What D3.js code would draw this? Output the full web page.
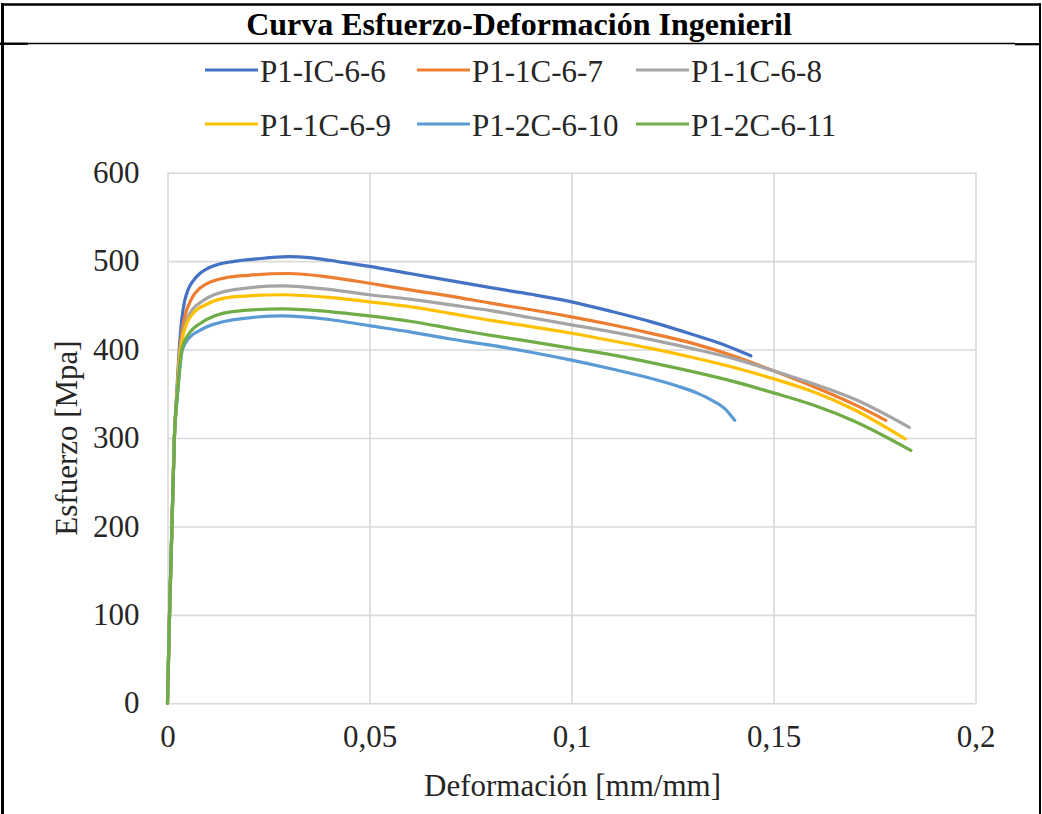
<!DOCTYPE html>
<html>
<head>
<meta charset="utf-8">
<script src="https://cdn.jsdelivr.net/npm/d3@7"></script>
<style>
  html, body { margin: 0; padding: 0; background: #fff; }
  svg { display: block; }
  text { font-family: "Times New Roman", "Liberation Serif", serif; fill: #262626; }
</style>
</head>
<body>
<svg id="chart" width="1042" height="814"></svg>
<script>
// Engineering stress–strain curves, strain [mm/mm] vs stress [MPa]
const seriesNames = ["P1-IC-6-6", "P1-1C-6-7", "P1-1C-6-8", "P1-1C-6-9", "P1-2C-6-10", "P1-2C-6-11"];
const seriesColors = ["#4472C4", "#ED7D31", "#A5A5A5", "#FFC000", "#5B9BD5", "#70AD47"];

const p1ic66 = [[0,0],[0.0005,100],[0.0011,200],[0.0017,300],[0.0023,352],[0.0029,400],[0.0035,433],[0.0042,454],[0.0052,469],[0.0064,478],[0.008,486],[0.0096,491],[0.012,495.5],[0.0161,499.5],[0.022,502.5],[0.03,505],[0.035,504],[0.04,501],[0.045,497.5],[0.05,494],[0.06,486],[0.07,478],[0.08,470],[0.09,462.5],[0.1,454],[0.11,443],[0.12,431],[0.13,417],[0.138,405],[0.1444,393]];
const p11c67 = [[0,0],[0.0005,100],[0.0011,200],[0.0017,300],[0.0024,352],[0.003,398],[0.0037,424],[0.0045,441],[0.0058,456],[0.0079,469],[0.0137,480.5],[0.02,484],[0.03,486],[0.04,482],[0.05,475],[0.06,467.5],[0.07,460.5],[0.08,452.5],[0.09,445],[0.1,437],[0.11,428],[0.12,418],[0.13,407],[0.14,393],[0.15,376],[0.16,358],[0.17,338],[0.1778,320]];
const p11c68 = [[0,0],[0.0005,100],[0.0011,200],[0.0017,300],[0.0024,350],[0.0031,397],[0.0038,418],[0.0048,434],[0.0063,446],[0.0087,455],[0.0161,467.5],[0.0285,472],[0.04,468],[0.05,462],[0.06,457],[0.07,450.5],[0.08,444],[0.09,436],[0.1,428],[0.11,420],[0.12,411],[0.13,401],[0.14,390],[0.15,376],[0.16,361],[0.17,344],[0.1836,312]];
const p11c69 = [[0,0],[0.0005,100],[0.0011,200],[0.0017,300],[0.0024,350],[0.0031,395],[0.0038,415],[0.0048,430],[0.0065,442],[0.0096,451],[0.0161,459.5],[0.0285,462],[0.04,459],[0.05,454],[0.06,448.5],[0.07,441],[0.08,433],[0.09,426],[0.1,418.5],[0.11,410],[0.12,401],[0.13,391],[0.14,380],[0.15,367],[0.16,352],[0.17,332],[0.1826,299]];
const p12c610 = [[0,0],[0.0005,100],[0.0011,200],[0.0017,300],[0.0025,350],[0.0035,396],[0.0045,408],[0.006,416],[0.0079,421.5],[0.0161,433.5],[0.0285,438],[0.04,434],[0.05,427],[0.06,420],[0.07,412],[0.08,405],[0.09,397],[0.1,388],[0.11,378],[0.12,367],[0.126,359],[0.131,351],[0.135,342],[0.138,333],[0.1404,320]];
const p12c611 = [[0,0],[0.0005,100],[0.0011,200],[0.0017,300],[0.0025,352],[0.0035,399],[0.0045,412],[0.006,422],[0.0079,429],[0.0161,443],[0.0285,446],[0.04,443],[0.05,438],[0.06,432],[0.07,424],[0.08,416],[0.09,409],[0.1,401.5],[0.11,394],[0.12,385],[0.13,375],[0.14,364],[0.15,351],[0.16,337],[0.17,319],[0.184,286]];
const seriesValues = [p1ic66, p11c67, p11c68, p11c69, p12c610, p12c611];

const xTicks = [0, 0.05, 0.1, 0.15, 0.2];
const xTickLabels = ["0", "0,05", "0,1", "0,15", "0,2"];
const yTicks = [0, 100, 200, 300, 400, 500, 600];

const svg = d3.select("#chart");

// Plot area
const plotLeft = 167.5, plotRight = 975.5, plotTop = 172.7, plotBottom = 703.3;
const x = d3.scaleLinear().domain([0, 0.2]).range([plotLeft, plotRight]);
const y = d3.scaleLinear().domain([0, 600]).range([plotBottom, plotTop]);

// Frame around the figure and the title cell
const frame = svg.append("g").attr("stroke", "#000").attr("fill", "none");
frame.append("line").attr("x1", 2.5).attr("x2", 2.5).attr("y1", 3).attr("y2", 814).attr("stroke-width", 3);
frame.append("line").attr("x1", 1).attr("x2", 1041).attr("y1", 4.5).attr("y2", 4.5).attr("stroke-width", 2.5);
frame.append("line").attr("x1", 1040).attr("x2", 1040).attr("y1", 3.5).attr("y2", 814).attr("stroke-width", 2);
frame.append("line").attr("x1", 0).attr("x2", 1015).attr("y1", 43.5).attr("y2", 43.5).attr("stroke-width", 1.6);
frame.append("line").attr("x1", 1015).attr("x2", 1041).attr("y1", 44.2).attr("y2", 44.2).attr("stroke-width", 2.2);
frame.append("line").attr("x1", 0).attr("x2", 28).attr("y1", 43.8).attr("y2", 43.8).attr("stroke-width", 2.2);

svg.append("text")
  .attr("x", 519).attr("y", 35)
  .attr("text-anchor", "middle")
  .attr("font-size", 32).attr("font-weight", "bold")
  .style("fill", "#000")
  .text("Curva Esfuerzo-Deformación Ingenieril");

// Gridlines
const gridY = svg.append("g")
  .attr("transform", `translate(${plotLeft},0)`)
  .call(d3.axisLeft(y).tickValues(yTicks).tickSize(-(plotRight - plotLeft)).tickFormat(""));
gridY.select(".domain").remove();
gridY.selectAll("line").attr("stroke", "#d9d9d9").attr("stroke-width", 1.6);

const gridX = svg.append("g")
  .attr("transform", `translate(0,${plotBottom})`)
  .call(d3.axisBottom(x).tickValues(xTicks).tickSize(-(plotBottom - plotTop)).tickFormat(""));
gridX.select(".domain").remove();
gridX.selectAll("line").attr("stroke", "#d9d9d9").attr("stroke-width", 1.6);

// Tick labels
const yAxis = svg.append("g")
  .attr("transform", `translate(${plotLeft},0)`)
  .call(d3.axisLeft(y).tickValues(yTicks).tickSize(0).tickPadding(28).tickFormat(d3.format("d")));
yAxis.select(".domain").remove();
yAxis.selectAll("text")
  .attr("font-size", 31).attr("font-family", null)
  .attr("dy", "0.31em").style("fill", "#262626");

const xAxis = svg.append("g")
  .attr("transform", `translate(0,${plotBottom})`)
  .call(d3.axisBottom(x).tickValues(xTicks).tickSize(0).tickPadding(22)
        .tickFormat((d, i) => xTickLabels[i]));
xAxis.select(".domain").remove();
xAxis.selectAll("text")
  .attr("font-size", 31).attr("font-family", null)
  .style("fill", "#262626");

// Axis titles
svg.append("text")
  .attr("x", (plotLeft + plotRight) / 2 + 1).attr("y", 796)
  .attr("text-anchor", "middle").attr("font-size", 31)
  .text("Deformación [mm/mm]");

svg.append("text")
  .attr("transform", `translate(77,${(plotTop + plotBottom) / 2}) rotate(-90)`)
  .attr("text-anchor", "middle").attr("font-size", 31)
  .text("Esfuerzo [Mpa]");

// Curves
const line = d3.line()
  .x(d => x(d[0]))
  .y(d => y(d[1]))
  .curve(d3.curveMonotoneX);

svg.append("g").selectAll("path")
  .data(seriesValues)
  .join("path")
  .attr("d", line)
  .attr("fill", "none")
  .attr("stroke", (d, i) => seriesColors[i])
  .attr("stroke-width", 3.2)
  .attr("stroke-linecap", "round")
  .attr("stroke-linejoin", "round");

// Legend, two rows of three
const legendCols = [205, 417, 636];
const legendRows = [70, 124];
const legend = svg.append("g").selectAll("g")
  .data(seriesNames)
  .join("g")
  .attr("transform", (d, i) => `translate(${legendCols[i % 3]},${legendRows[Math.floor(i / 3)]})`);
legend.append("line")
  .attr("x1", 0).attr("x2", 53).attr("y1", 0).attr("y2", 0)
  .attr("stroke", (d, i) => seriesColors[i]).attr("stroke-width", 3.2);
legend.append("text")
  .attr("x", 55).attr("y", 11.5)
  .attr("font-size", 31)
  .text(d => d);
</script>
</body>
</html>
